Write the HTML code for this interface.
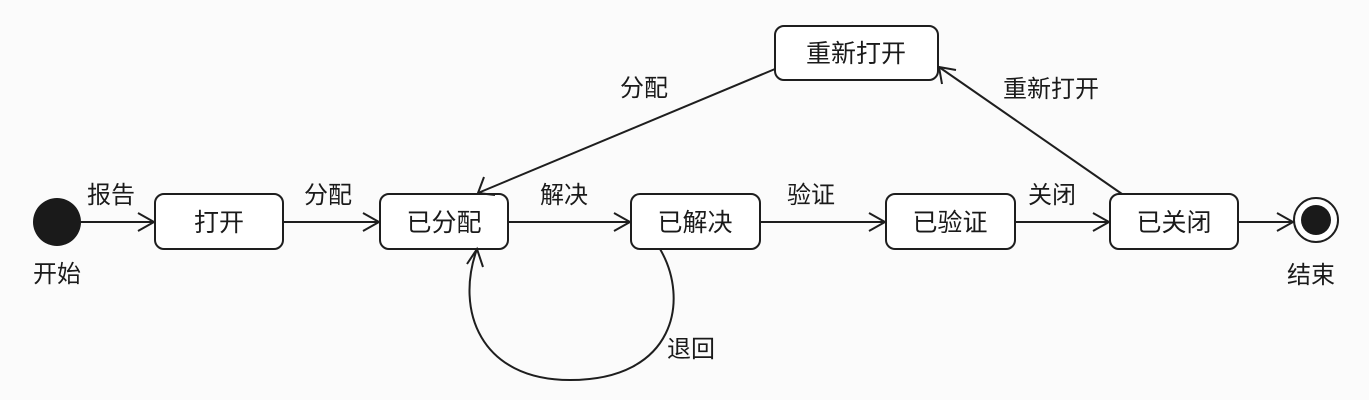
<!DOCTYPE html>
<html><head><meta charset="utf-8"><style>
html,body{margin:0;padding:0;background:#fff;}
svg{display:block;}
text{font-family:"Liberation Sans","Noto Sans CJK SC",sans-serif;fill:#1a1a1a;}
</style></head><body>
<svg width="1369" height="400" viewBox="0 0 1369 400" xmlns="http://www.w3.org/2000/svg">
<rect width="1369" height="400" fill="#fbfbfb"/>
<g stroke="#1e1e1e" stroke-width="2" fill="#fff">
<rect x="155" y="194" width="128" height="55" rx="9"/>
<rect x="380" y="194" width="128" height="55" rx="9"/>
<rect x="631" y="194" width="129" height="55" rx="9"/>
<rect x="886" y="194" width="129" height="55" rx="9"/>
<rect x="1110" y="194" width="128" height="55" rx="9"/>
<rect x="775" y="26" width="163" height="54" rx="9"/>
</g>
<circle cx="57" cy="222" r="24" fill="#1a1a1a"/>
<circle cx="1316" cy="220" r="22" fill="#fff" stroke="#1e1e1e" stroke-width="2"/>
<circle cx="1316" cy="220" r="15" fill="#1a1a1a"/>
<g stroke="#1e1e1e" stroke-width="2" fill="none">
<line x1="81" y1="222" x2="154" y2="222"/><polyline points="138,213 154,222 138,231"/>
<line x1="283" y1="222" x2="379" y2="222"/><polyline points="363,213 379,222 363,231"/>
<line x1="508" y1="222" x2="630" y2="222"/><polyline points="614,213 630,222 614,231"/>
<line x1="760" y1="222" x2="885" y2="222"/><polyline points="869,213 885,222 869,231"/>
<line x1="1015" y1="222" x2="1109" y2="222"/><polyline points="1093,213 1109,222 1093,231"/>
<line x1="1238" y1="222" x2="1293" y2="222"/><polyline points="1277,213 1293,222 1277,231"/>
<line x1="775" y1="69" x2="478" y2="193"/><polyline points="484,177 478,193 495,195"/>
<line x1="1122" y1="194" x2="939" y2="67"/><polyline points="942,84 939,67 956,70"/>
<path d="M660,249 C690,300 675,380 570,380 C480,380 455,310 477,249"/>
<polyline points="467,264 477,249 483,267"/>
</g>
<g font-size="25" text-anchor="middle">
<text x="219" y="231">打开</text>
<text x="444" y="231">已分配</text>
<text x="695" y="231">已解决</text>
<text x="950" y="231">已验证</text>
<text x="1174" y="231">已关闭</text>
<text x="856" y="62">重新打开</text>
</g>
<g font-size="24">
<text x="87" y="203">报告</text>
<text x="304" y="203">分配</text>
<text x="540" y="203">解决</text>
<text x="787" y="203">验证</text>
<text x="1028" y="203">关闭</text>
<text x="620" y="96">分配</text>
<text x="1003" y="97">重新打开</text>
<text x="667" y="357">退回</text>
<text x="33" y="282">开始</text>
<text x="1287" y="283">结束</text>
</g>
</svg>
</body></html>
